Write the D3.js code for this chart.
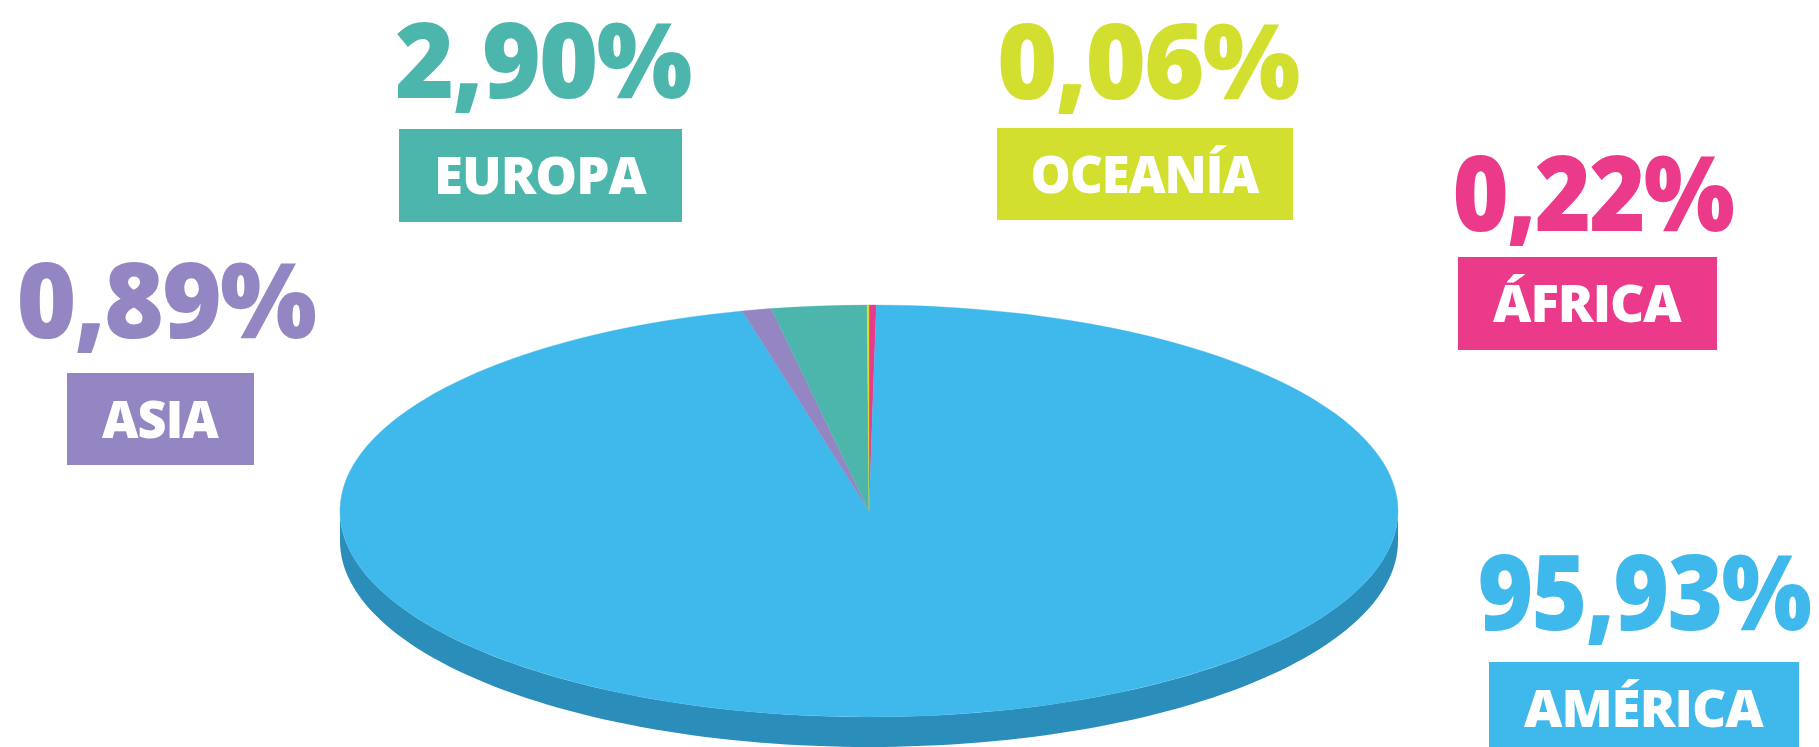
<!DOCTYPE html>
<html>
<head>
<meta charset="utf-8">
<script src="https://cdn.jsdelivr.net/npm/d3@7"></script>
<style>
  html, body { margin: 0; padding: 0; background: #ffffff; }
  svg { display: block; }
</style>
</head>
<body>
<svg id="chart" width="1819" height="747"></svg>
<script>
// ---- data ----
const categories  = ["ÁFRICA", "AMÉRICA", "ASIA", "EUROPA", "OCEANÍA"];
const values      = [0.22, 95.93, 0.89, 2.90, 0.06];
const valueLabels = ["0,22%", "95,93%", "0,89%", "2,90%", "0,06%"];

// ---- styles ----
const colors     = ["#ec3a8b", "#3fb8eb", "#9386c3", "#4db6ac", "#d3df2e"];
const sideColors = ["#b82a6a", "#2a8dba", "#6f6399", "#368c84", "#a2ad1e"];

// ---- label layout (annotation placement) ----
const labelLayout = {
  "ÁFRICA":  { box: [1458, 257, 259, 93], numX: 1593, numY: 231, numW: 281, txtW: 189 },
  "AMÉRICA": { box: [1489, 662, 310, 93], numX: 1644, numY: 630, numW: 333, txtW: 240 },
  "ASIA":    { box: [67, 373, 187, 92],   numX: 166,  numY: 338, numW: 299, txtW: 117 },
  "EUROPA":  { box: [399, 129, 283, 93],  numX: 543,  numY: 98,  numW: 296, txtW: 213 },
  "OCEANÍA": { box: [997, 128, 296, 92],  numX: 1148, numY: 99,  numW: 302, txtW: 229 }
};

const svg = d3.select("#chart");
const cx = 869, cy = 511, rx = 529, ry = 206, depth = 30;

const data = categories.map((c, i) => ({ name: c, value: values[i], label: valueLabels[i], color: colors[i], side: sideColors[i] }));

const pie = d3.pie().sort(null).value(d => d.value).startAngle(0).endAngle(2 * Math.PI);
const arcs = pie(data);

// ---- 3D side (front half only) ----
const sideG = svg.append("g");
const line = d3.line().x(p => p[0]).y(p => p[1]);
arcs.forEach(a => {
  const a0 = Math.max(a.startAngle, Math.PI / 2);
  const a1 = Math.min(a.endAngle, 3 * Math.PI / 2);
  if (a1 <= a0) return;
  const n = 120;
  const angs = d3.range(n + 1).map(k => a0 + (a1 - a0) * k / n);
  const top = angs.map(t => [cx + rx * Math.sin(t), cy - ry * Math.cos(t)]);
  const bot = angs.slice().reverse().map(t => [cx + rx * Math.sin(t), cy - ry * Math.cos(t) + depth]);
  sideG.append("path")
    .attr("d", line(top.concat(bot)) + "Z")
    .attr("fill", a.data.side);
});

// ---- top face ----
const arc = d3.arc().innerRadius(0).outerRadius(rx);
svg.append("g")
  .attr("transform", `translate(${cx},${cy}) scale(1,${ry / rx})`)
  .selectAll("path")
  .data(arcs)
  .join("path")
  .attr("d", arc)
  .attr("fill", d => d.data.color)
  .attr("stroke", d => d.data.color)
  .attr("stroke-width", 0.5);

// ---- labels ----
function fitText(sel, x, y, targetW) {
  const bb = sel.node().getBBox();
  const w = bb.width;
  const sx = w > 0 ? targetW / w : 1;
  const cxText = bb.x + bb.width / 2;
  sel.attr("x", 0).attr("y", 0)
     .attr("transform", `translate(${x},${y}) scale(${sx},1) translate(${-cxText},0)`);
}

const lg = svg.append("g").attr("font-family", "'Open Sans', 'Noto Sans', sans-serif");
data.forEach(d => {
  const L = labelLayout[d.name];
  const [bx, by, bw, bh] = L.box;
  const num = lg.append("text")
    .attr("x", 0).attr("y", 0)
    .attr("text-anchor", "start")
    .attr("font-size", 104)
    .attr("font-weight", 800)
    .attr("letter-spacing", -2)
    .attr("fill", d.color)
    .text(d.label);
  fitText(num, L.numX, L.numY, L.numW);

  lg.append("rect")
    .attr("x", bx).attr("y", by).attr("width", bw).attr("height", bh)
    .attr("fill", d.color);
  const t = lg.append("text")
    .attr("x", 0).attr("y", 0)
    .attr("text-anchor", "start")
    .attr("font-size", 52)
    .attr("font-weight", 800)
    .attr("letter-spacing", -1)
    .attr("fill", "#ffffff")
    .text(d.name);
  fitText(t, bx + bw / 2, by + bh / 2 + 18.5, L.txtW);
});
</script>
</body>
</html>
